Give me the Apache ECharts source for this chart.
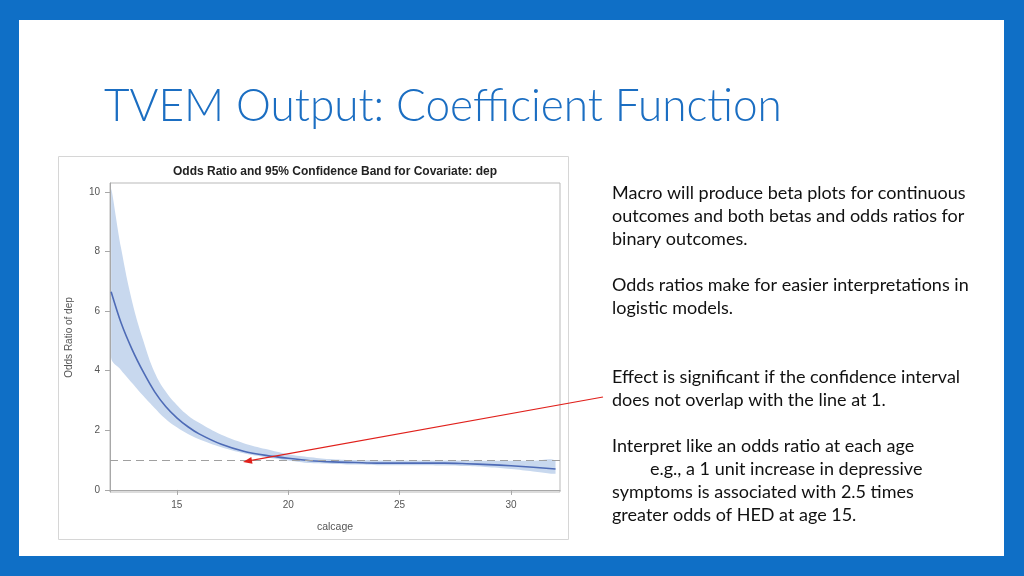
<!DOCTYPE html>
<html>
<head>
<meta charset="utf-8">
<script src="https://cdn.jsdelivr.net/npm/echarts@6/dist/echarts.min.js"></script>
<style>
html,body{margin:0;padding:0;background:#0f6fc6;}
#chart{width:1024px;height:576px;}
</style>
</head>
<body>
<div id="chart"></div>
<script>
// ---- data ----
const ages     = [12.05, 12.5, 13, 13.5, 14, 14.5, 15, 15.5, 16, 17, 18, 19, 20, 21, 22, 23, 24, 25, 26, 27, 28, 29, 30, 31, 32];
const estimate = [6.65, 5.6, 4.7, 3.95, 3.3, 2.8, 2.42, 2.12, 1.88, 1.53, 1.3, 1.16, 1.06, 0.98, 0.94, 0.92, 0.90, 0.90, 0.90, 0.90, 0.88, 0.85, 0.81, 0.76, 0.70];
const upper    = [10.1, 8.1, 6.3, 5.0, 3.95, 3.3, 2.85, 2.5, 2.25, 1.85, 1.57, 1.37, 1.2, 1.1, 1.03, 1.0, 0.99, 0.99, 0.99, 0.99, 0.99, 0.98, 0.98, 0.98, 0.98];
const lower    = [4.45, 4.02, 3.58, 3.15, 2.75, 2.38, 2.1, 1.88, 1.7, 1.43, 1.23, 1.1, 0.99, 0.9, 0.87, 0.85, 0.83, 0.83, 0.83, 0.82, 0.8, 0.76, 0.7, 0.62, 0.54];
const xTicks   = [15, 20, 25, 30];
const yTicks   = [0, 2, 4, 6, 8, 10];
const refValue = 1;

const slideTitle = 'TVEM Output: Coefficient Function';
const chartTitle = 'Odds Ratio and 95% Confidence Band for Covariate: dep';
const xName = 'calcage';
const yName = 'Odds Ratio of dep';
const notes = [
  ['Macro will produce beta plots for continuous', 0],
  ['outcomes and both betas and odds ratios for', 0],
  ['binary outcomes.', 0],
  ['', 0],
  ['Odds ratios make for easier interpretations in', 0],
  ['logistic models.', 0],
  ['', 0],
  ['', 0],
  ['Effect is significant if the confidence interval', 0],
  ['does not overlap with the line at 1.', 0],
  ['', 0],
  ['Interpret like an odds ratio at each age', 0],
  ['e.g., a 1 unit increase in depressive', 1],
  ['symptoms is associated with 2.5 times', 0],
  ['greater odds of HED at age 15.', 0]
];

const chart = echarts.init(document.getElementById('chart'));

const estPts = ages.map((a, i) => [a, estimate[i]]);

const bodyFont = 'Lato, "Open Sans", sans-serif';
const sansFont = '"Liberation Sans", Arial, sans-serif';
const graphics = [
  {type: 'rect', shape: {x: 19, y: 20, width: 985, height: 536}, style: {fill: '#ffffff'}, z: -10, silent: true},
  {type: 'rect', shape: {x: 58.5, y: 156.5, width: 510, height: 383}, style: {fill: 'none', stroke: '#d6d6d6', lineWidth: 1}, silent: true},
  {type: 'text', x: 104, y: 106, scaleX: 0.98, style: {text: slideTitle, x: 0, y: 0, fill: '#1b6ec2', fontSize: 45, fontFamily: bodyFont, fontWeight: 300, verticalAlign: 'middle'}},
  {type: 'text', style: {text: chartTitle, x: 335, y: 172, fill: '#222', fontSize: 12, fontFamily: sansFont, fontWeight: 'bold', align: 'center', verticalAlign: 'middle'}}
];
notes.forEach((n, i) => {
  if (!n[0]) return;
  graphics.push({type: 'text', style: {text: n[0], x: 612 + n[1] * 38, y: 193 + i * 23, fill: '#111', fontSize: 18, fontFamily: bodyFont, verticalAlign: 'middle'}});
});
// red annotation arrow
graphics.push({type: 'line', shape: {x1: 603, y1: 397, x2: 250, y2: 460.7}, style: {stroke: '#e0201b', lineWidth: 1.2}, z: 10});
graphics.push({type: 'polygon', shape: {points: [[243, 462], [252.5, 463.8], [251.3, 457.0]]}, style: {fill: '#e0201b'}, z: 10});

chart.setOption({
  animation: false,
  backgroundColor: 'transparent',
  grid: {left: 110, right: 464, top: 183, bottom: 84, show: true, borderColor: '#b9b9b9', borderWidth: 1, backgroundColor: '#fff'},
  xAxis: {
    type: 'value', min: 12, max: 32.2,
    name: xName, nameLocation: 'middle', nameGap: 30,
    nameTextStyle: {color: '#555', fontSize: 10.5, fontFamily: sansFont},
    axisLine: {show: true, lineStyle: {color: '#a8a8a8'}},
    axisTick: {show: true, length: 5, lineStyle: {color: '#a8a8a8'}, customValues: xTicks},
    axisLabel: {color: '#555', fontSize: 10, margin: 8, fontFamily: sansFont, customValues: xTicks},
    splitLine: {show: false}
  },
  yAxis: {
    type: 'value', min: -0.07, max: 10.3,
    name: yName, nameLocation: 'middle', nameGap: 36,
    nameTextStyle: {color: '#555', fontSize: 10, fontFamily: sansFont},
    axisLine: {show: true, lineStyle: {color: '#a8a8a8'}},
    axisTick: {show: true, length: 5, lineStyle: {color: '#a8a8a8'}, customValues: yTicks},
    axisLabel: {color: '#555', fontSize: 10, margin: 10, fontFamily: sansFont, customValues: yTicks},
    splitLine: {show: false}
  },
  series: [
    {
      type: 'custom', silent: true, clip: true, z: 1,
      data: [[ages[0], lower[0]]],
      renderItem: function (params, api) {
        const pts = [];
        for (let i = 0; i < ages.length; i++) pts.push(api.coord([ages[i], upper[i]]));
        for (let i = ages.length - 1; i >= 0; i--) pts.push(api.coord([ages[i], lower[i]]));
        const xs = pts.map(p => p[0]), ys = pts.map(p => p[1]);
        const box = [[Math.min(...xs), Math.min(...ys)], [Math.max(...xs), Math.max(...ys)]];
        return {type: 'polygon', shape: {points: pts, smooth: 0.4, smoothConstraint: box}, style: {fill: '#c8d8ee'}};
      }
    },
    {type: 'line', data: estPts, symbol: 'none', smooth: 0.3, lineStyle: {color: '#4e6bb6', width: 1.6}, z: 3,
     markLine: {silent: true, symbol: 'none', label: {show: false}, lineStyle: {color: '#a0a0a0', type: [8, 5], width: 1}, data: [{yAxis: refValue}]}}
  ],
  graphic: graphics
});
</script>
</body>
</html>
